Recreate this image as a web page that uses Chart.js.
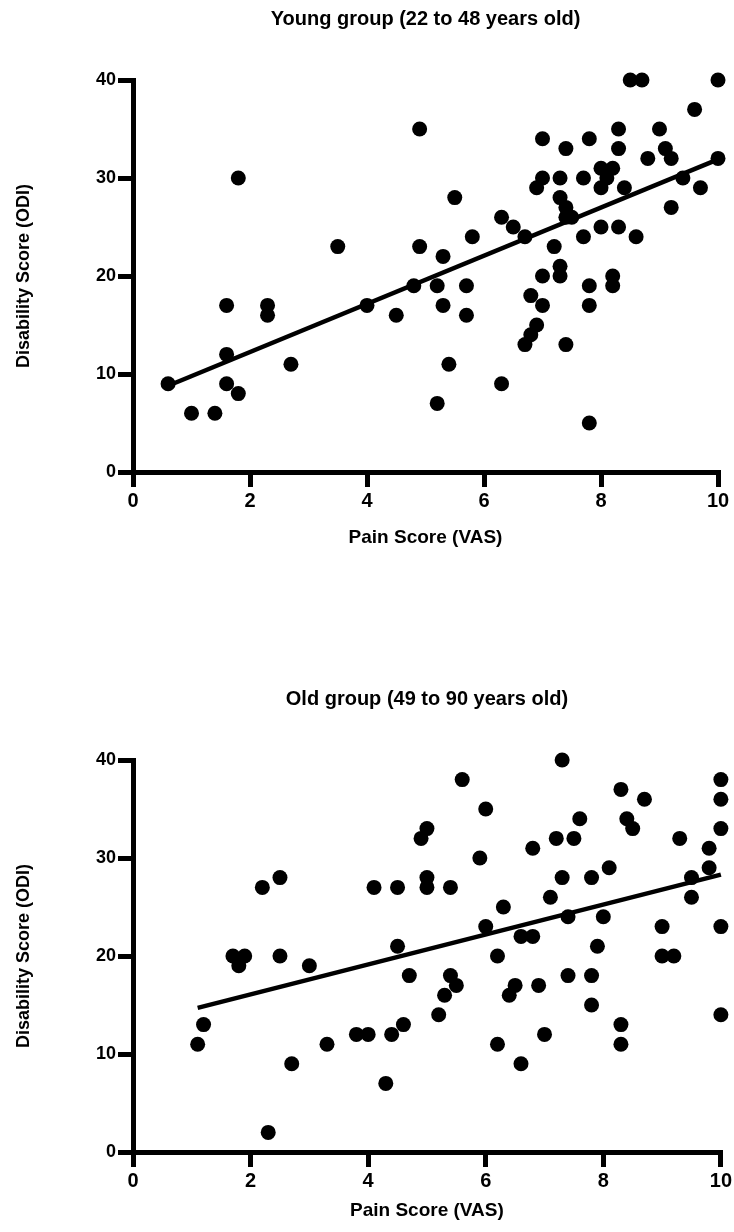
<!DOCTYPE html>
<html><head><meta charset="utf-8">
<script src="https://cdn.jsdelivr.net/npm/chart.js@4.4.0/dist/chart.umd.min.js"></script>
<style>
html,body{margin:0;padding:0;background:#fff;}
body{width:734px;height:1232px;position:relative;overflow:hidden;}
.wrap{position:absolute;left:0;width:734px;}
canvas{display:block;}
</style></head><body>
<div class="wrap" style="top:0;height:560px"><canvas id="c1" width="734" height="560"></canvas></div>
<div class="wrap" style="top:600px;height:632px"><canvas id="c2" width="734" height="632"></canvas></div>
<script>
// ---- Data ----
const xTickValues = [0, 2, 4, 6, 8, 10];
const yTickValues = [0, 10, 20, 30, 40];

const youngTitle = 'Young group (22 to 48 years old)';
const youngX = [0.6,1.0,1.4,1.6,1.8,1.6,1.6,1.8,2.3,2.3,2.7,3.5,4.0,4.5,4.8,4.9,4.9,5.2,5.4,5.2,5.3,5.3,5.5,5.7,5.7,5.8,6.3,6.3,6.5,6.7,6.7,6.8,6.9,6.8,7.0,7.0,6.9,7.0,7.0,7.2,7.3,7.3,7.3,7.3,7.4,7.4,7.5,7.4,7.4,7.7,7.7,7.8,7.8,7.8,7.8,8.0,8.0,8.0,8.1,8.2,8.2,8.2,8.3,8.3,8.3,8.4,8.5,8.7,8.6,8.8,9.0,9.1,9.2,9.2,9.4,9.6,9.7,10,10];
const youngY = [9,6,6,9,8,12,17,30,17,16,11,23,17,16,19,23,35,7,11,19,22,17,28,19,16,24,9,26,25,24,13,14,15,18,17,20,29,30,34,23,21,20,30,28,27,26,26,33,13,30,24,34,19,17,5,31,29,25,30,31,20,19,35,33,25,29,40,40,24,32,35,33,32,27,30,37,29,40,32];
const youngFitX = [0.6, 10];
const youngFitY = [8.8, 31.9];

const oldTitle = 'Old group (49 to 90 years old)';
const oldX = [1.1,1.2,1.7,1.8,1.9,2.2,2.5,2.5,2.3,2.7,3.0,3.3,3.8,4.0,4.1,4.3,4.4,4.5,4.5,4.6,4.7,4.9,5.0,5.0,5.0,5.4,5.2,5.3,5.4,5.5,5.6,5.9,6.0,6.0,6.2,6.2,6.3,6.4,6.5,6.6,6.6,6.8,6.8,6.9,7.0,7.1,7.2,7.3,7.3,7.4,7.4,7.5,7.6,7.8,7.8,7.8,7.9,8.0,8.1,8.3,8.3,8.3,8.4,8.5,8.7,9.0,9.0,9.2,9.3,9.5,9.5,9.8,9.8,10,10,10,10,10];
const oldY = [11,13,20,19,20,27,28,20,2,9,19,11,12,12,27,7,12,27,21,13,18,32,33,28,27,27,14,16,18,17,38,30,35,23,20,11,25,16,17,9,22,22,31,17,12,26,32,40,28,24,18,32,34,28,18,15,21,24,29,37,13,11,34,33,36,23,20,20,32,28,26,31,29,38,36,33,23,14];
const oldFitX = [1.1, 10];
const oldFitY = [14.7, 28.3];

const xAxisTitle = 'Pain Score (VAS)';
const yAxisTitle = 'Disability Score (ODI)';

// ---- Rendering ----
const FAM = "'Liberation Sans', Arial, Helvetica, sans-serif";

function buildChart(canvasId, title, xs, ys, fxs, fys, L) {
  const pts = xs.map((v, i) => ({x: v, y: ys[i]}));
  const fit = fxs.map((v, i) => ({x: v, y: fys[i]}));
  return new Chart(document.getElementById(canvasId), {
    type: 'scatter',
    data: {datasets: [
      {data: pts, pointRadius: 7.5, pointHoverRadius: 7.5, pointBackgroundColor: '#000', pointBorderWidth: 0, borderColor: '#000', showLine: false, clip: false},
      {data: fit, showLine: true, borderColor: '#000', borderWidth: 4.5, pointRadius: 0, pointHoverRadius: 0, clip: false, borderCapStyle: 'butt'}
    ]},
    options: {
      responsive: false,
      animation: false,
      events: [],
      layout: {padding: {left: 0, right: L.padRight, top: 0, bottom: 0}},
      plugins: {
        legend: {display: false},
        tooltip: {enabled: false},
        title: {display: true, text: title, color: '#000', fullSize: false,
          font: {family: FAM, size: 20, weight: 'bold'},
          padding: {top: L.titleTop, bottom: L.titleBottom}}
      },
      scales: {
        x: {
          type: 'linear', min: 0, max: 10,
          afterBuildTicks: s => { s.ticks = xTickValues.map(v => ({value: v})); },
          afterFit: s => { s.height = L.xAxisH; },
          grid: {drawOnChartArea: false, drawTicks: true, tickLength: 15, lineWidth: 5, color: '#000'},
          border: {display: true, width: 5, color: '#000'},
          ticks: {color: '#000', font: {family: FAM, size: 20, weight: 'bold'}, padding: 2, autoSkip: false, maxRotation: 0},
          title: {display: true, text: xAxisTitle, color: '#000', font: {family: FAM, size: 19, weight: 'bold'}, padding: {top: 0, bottom: L.xTitleBottom}}
        },
        y: {
          type: 'linear', min: 0, max: 40,
          afterBuildTicks: s => { s.ticks = yTickValues.map(v => ({value: v})); },
          afterFit: s => { s.width = 133; },
          grid: {drawOnChartArea: false, drawTicks: true, tickLength: 15, lineWidth: 5, color: '#000'},
          border: {display: true, width: 5, color: '#000'},
          ticks: {color: '#000', font: {family: FAM, size: 18, weight: 'bold'}, padding: 2, autoSkip: false},
          title: {display: true, text: yAxisTitle, color: '#000', font: {family: FAM, size: 18, weight: 'bold'}, padding: {top: 13, bottom: 0}}
        }
      }
    }
  });
}

buildChart('c1', youngTitle, youngX, youngY, youngFitX, youngFitY,
  {padRight: 16, titleTop: 7, titleBottom: 49, xAxisH: 88, xTitleBottom: 11});
buildChart('c2', oldTitle, oldX, oldY, oldFitX, oldFitY,
  {padRight: 11, titleTop: 87, titleBottom: 49, xAxisH: 80, xTitleBottom: 10});
</script>
</body></html>
